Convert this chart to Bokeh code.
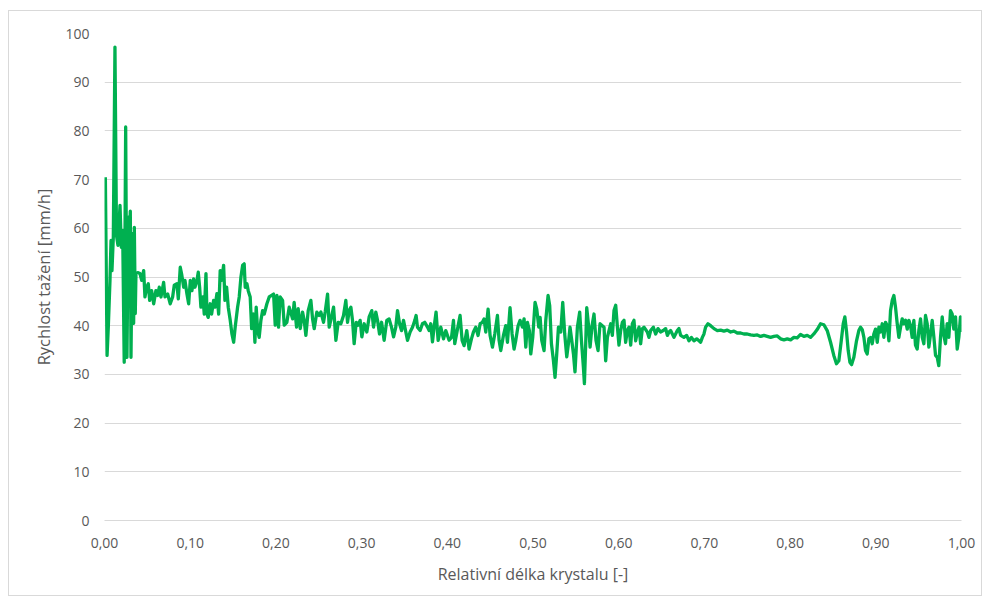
from bokeh.plotting import figure
from bokeh.models import FixedTicker, CustomJSTickFormatter, Range1d
from bokeh.embed import file_html
from bokeh.resources import INLINE

# ---- data: (relative crystal length, pulling speed mm/h) ----
seg_start = [
    (0.001, 70.5), (0.003, 33.9), (0.0045, 40.0), (0.0064, 49.3), (0.0076, 57.5),
    (0.0087, 51.3), (0.0103, 58.2), (0.0122, 97.2), (0.014, 58.5), (0.0157, 56.5),
    (0.0181, 64.7), (0.0196, 56.1), (0.0212, 59.5), (0.023, 32.5), (0.0247, 80.8),
    (0.0262, 33.5), (0.0278, 62.3), (0.0289, 55.0), (0.0301, 63.5), (0.0309, 33.5),
    (0.0324, 58.9), (0.034, 40.5), (0.0348, 60.2), (0.0359, 42.5), (0.0367, 50.7),
]

seg_early = [
    (0.0387, 50.9), (0.0414, 50.7), (0.0434, 49.3), (0.0457, 51.3), (0.0472, 45.9),
    (0.0492, 47.9), (0.0511, 48.6), (0.0527, 45.2), (0.055, 47.2), (0.0574, 44.5),
    (0.06, 47.2), (0.062, 46.2), (0.0639, 47.9), (0.0659, 45.9), (0.069, 48.9),
    (0.0706, 45.9), (0.0737, 46.5), (0.0767, 44.5), (0.0795, 45.9), (0.0814, 48.3),
    (0.0845, 48.6), (0.0861, 45.5), (0.0884, 52.0), (0.09, 50.6), (0.0924, 47.9),
    (0.0939, 49.3), (0.0962, 46.5), (0.0982, 44.5), (0.1001, 49.3), (0.102, 47.2),
    (0.104, 49.6), (0.1055, 47.9), (0.1079, 49.3), (0.1094, 51.0), (0.111, 47.9),
    (0.1125, 43.8), (0.1149, 45.9), (0.1164, 42.4), (0.1184, 50.7), (0.1196, 42.4),
    (0.121, 41.7), (0.1234, 44.5), (0.125, 42.4), (0.1273, 45.2), (0.1289, 43.8),
    (0.1312, 46.6), (0.1332, 42.4), (0.135, 51.3), (0.1367, 49.3), (0.139, 52.4),
    (0.1405, 45.2), (0.1425, 47.9), (0.1444, 43.8), (0.1467, 41.1), (0.1487, 38.3),
    (0.1507, 36.6), (0.1525, 39.7), (0.1553, 43.8), (0.1572, 45.9), (0.1592, 50.0),
    (0.1612, 52.4), (0.163, 52.7), (0.1642, 47.9), (0.1662, 48.6), (0.1677, 47.2),
    (0.17, 45.9), (0.1717, 39.4), (0.174, 42.4), (0.1755, 36.6), (0.177, 43.8),
    (0.1787, 39.0), (0.1805, 37.6), (0.1825, 41.1), (0.1845, 43.1), (0.1864, 42.4),
    (0.1895, 44.5), (0.1922, 45.9),
]

seg_mid1 = [
    (0.1973, 46.5), (0.1992, 40.1), (0.2012, 46.2), (0.2031, 39.7), (0.205, 45.9),
    (0.2078, 45.2), (0.2097, 40.1), (0.2128, 40.7), (0.2155, 43.8), (0.2195, 41.4),
    (0.2213, 44.8), (0.2241, 39.7), (0.226, 43.5), (0.2284, 39.4), (0.2311, 42.8),
    (0.233, 41.1), (0.235, 38.0), (0.2377, 43.1), (0.2408, 45.2), (0.2428, 41.4),
    (0.2447, 39.4), (0.2478, 42.8), (0.2505, 42.1), (0.2525, 42.8), (0.2556, 40.7),
    (0.2575, 42.8), (0.2603, 46.5), (0.2622, 39.7), (0.2649, 41.8), (0.2673, 43.8),
    (0.27, 37.0), (0.2727, 40.7), (0.2758, 40.4), (0.2789, 42.1), (0.2816, 45.2),
    (0.2836, 40.7), (0.2855, 43.1), (0.2875, 43.8), (0.2894, 41.1), (0.2913, 36.3),
    (0.2937, 40.7), (0.296, 40.1), (0.2983, 41.1), (0.3003, 37.7), (0.303, 40.4),
    (0.3061, 38.7), (0.3088, 41.8), (0.3119, 43.1), (0.3139, 39.7), (0.3166, 42.8),
    (0.3186, 41.1), (0.3209, 38.3), (0.3233, 40.7), (0.3263, 37.0), (0.3294, 41.1),
    (0.3321, 41.4), (0.3349, 39.7), (0.3373, 37.7), (0.3399, 39.7), (0.3419, 43.1),
    (0.3443, 40.4), (0.3466, 39.0), (0.3489, 41.1), (0.3508, 39.4), (0.3536, 37.0),
    (0.3566, 38.7), (0.3594, 39.7), (0.3621, 41.1), (0.3636, 42.1), (0.3652, 39.7),
    (0.3683, 39.0), (0.371, 40.4), (0.3737, 40.7), (0.3769, 39.7), (0.3788, 39.0),
    (0.3807, 40.4), (0.3827, 36.7), (0.3846, 39.7), (0.3869, 42.8), (0.3893, 37.0),
]

seg_mid2 = [
    (0.3924, 39.7), (0.3956, 37.3), (0.3982, 39.0), (0.4021, 37.0), (0.4049, 37.6),
    (0.4072, 41.1), (0.4087, 36.3), (0.4119, 39.3), (0.4149, 42.1), (0.4173, 37.0),
    (0.4196, 35.9), (0.4227, 39.0), (0.4254, 35.2), (0.4282, 37.3), (0.4305, 38.7),
    (0.4332, 39.7), (0.4359, 38.0), (0.4383, 40.4), (0.441, 40.7), (0.4429, 41.4),
    (0.4449, 38.7), (0.4476, 43.4), (0.4499, 38.0), (0.4527, 35.6), (0.4554, 38.3),
    (0.4585, 42.1), (0.4604, 37.0), (0.4624, 34.9), (0.4655, 38.0), (0.4682, 40.0),
    (0.4702, 36.6), (0.4732, 43.7), (0.4756, 38.3), (0.4779, 35.2), (0.4799, 37.0),
    (0.4826, 40.0), (0.4849, 41.1), (0.4877, 39.7), (0.4896, 41.4), (0.4916, 35.6),
    (0.4935, 40.7), (0.4958, 39.0), (0.4974, 34.2), (0.4997, 37.6), (0.5024, 44.8),
    (0.5044, 43.4), (0.5067, 39.7), (0.5083, 41.7), (0.5102, 37.0), (0.5129, 34.9),
    (0.5149, 41.1), (0.5176, 46.2), (0.5195, 44.1), (0.5215, 36.3), (0.5238, 32.9),
    (0.5257, 29.4), (0.5277, 34.2), (0.5297, 39.7), (0.5324, 38.7), (0.5347, 44.8),
    (0.537, 38.3), (0.5394, 33.6), (0.5413, 36.3), (0.5432, 39.7), (0.5452, 37.0),
    (0.5472, 34.2), (0.549, 30.5), (0.5518, 39.7), (0.5545, 42.8), (0.5565, 37.0),
    (0.5588, 31.5), (0.56, 28.1), (0.5615, 36.3), (0.5627, 43.7), (0.565, 39.7),
    (0.5666, 35.6), (0.5689, 40.0), (0.5712, 42.4), (0.5735, 37.0), (0.5759, 34.9),
    (0.5782, 40.4),
]

seg_late = [
    (0.5829, 39.7), (0.5848, 32.8), (0.5868, 37.6), (0.5887, 39.0), (0.5907, 40.4),
    (0.5926, 38.0), (0.5945, 43.1), (0.5965, 44.2), (0.5985, 39.7), (0.6003, 36.0),
    (0.6023, 39.0), (0.6043, 40.7), (0.6062, 41.1), (0.6081, 36.6), (0.6101, 39.0),
    (0.612, 39.7), (0.614, 36.0), (0.6159, 40.4), (0.6178, 41.1), (0.6198, 36.9),
    (0.6218, 38.7), (0.6237, 39.7), (0.6256, 36.3), (0.6276, 39.4), (0.6295, 39.7),
    (0.6334, 38.7), (0.6353, 37.6), (0.6373, 39.0), (0.6404, 39.7), (0.6431, 38.3),
    (0.6458, 39.4), (0.6489, 38.7), (0.652, 39.0), (0.6548, 39.4), (0.6568, 38.0),
    (0.6587, 38.7), (0.6606, 39.0), (0.6645, 37.6), (0.6684, 39.0), (0.6703, 39.4),
    (0.6723, 38.0), (0.6761, 37.6), (0.6793, 38.0), (0.682, 36.9), (0.6848, 37.6),
    (0.6878, 36.9), (0.691, 37.3), (0.6937, 36.9), (0.6956, 36.6), (0.6976, 37.6),
    (0.6995, 38.3), (0.7014, 39.7), (0.7042, 40.4), (0.7073, 40.0), (0.7112, 39.4),
    (0.7151, 39.0), (0.719, 39.1), (0.7228, 38.9), (0.7267, 39.1), (0.7306, 38.7),
    (0.7345, 38.9), (0.7384, 38.5), (0.7423, 38.5), (0.7461, 38.3), (0.75, 38.3),
    (0.7539, 38.1), (0.7578, 38.0), (0.7617, 38.1), (0.7656, 37.8), (0.7694, 38.0),
    (0.7733, 37.8), (0.7772, 37.6), (0.7811, 37.8), (0.785, 37.9),
]

seg_end = [
    (0.7889, 37.3), (0.7928, 37.1), (0.7967, 37.3), (0.8006, 37.1), (0.8044, 37.6),
    (0.8083, 37.5), (0.8122, 38.2), (0.8161, 37.8), (0.82, 38.0), (0.8239, 37.6),
    (0.8277, 38.3), (0.8316, 39.2), (0.8355, 40.4), (0.8394, 40.2), (0.8433, 39.0),
    (0.8472, 36.6), (0.851, 33.9), (0.8541, 32.2), (0.8569, 32.8), (0.8597, 36.9),
    (0.862, 40.4), (0.8639, 41.8), (0.8659, 38.7), (0.8678, 34.9), (0.8698, 32.5),
    (0.8717, 32.0), (0.8744, 33.5), (0.8775, 36.9), (0.8802, 39.0), (0.8822, 39.7),
    (0.8842, 39.2), (0.8861, 37.6), (0.888, 34.9), (0.89, 34.2), (0.8919, 37.3),
    (0.8939, 37.6), (0.8958, 36.3), (0.8977, 38.3), (0.8997, 39.3), (0.9017, 36.6),
    (0.9036, 39.7), (0.9055, 38.7), (0.9075, 40.4), (0.9094, 37.6), (0.9114, 40.7),
    (0.9134, 40.0), (0.9153, 36.9), (0.9172, 43.1), (0.9192, 45.2), (0.9211, 46.2),
    (0.923, 43.8), (0.925, 40.4), (0.9269, 37.6), (0.9289, 39.7), (0.9308, 41.4),
    (0.9327, 40.4), (0.9347, 41.1), (0.9367, 39.3), (0.9386, 41.1), (0.9405, 40.0),
    (0.9425, 37.6), (0.9444, 41.1), (0.9463, 36.0), (0.9483, 35.2), (0.9502, 39.0),
    (0.9522, 41.4), (0.9542, 37.6), (0.9561, 36.3), (0.958, 42.1), (0.96, 40.4),
    (0.9619, 35.6), (0.9639, 38.3), (0.9658, 41.1), (0.9678, 37.6), (0.9697, 33.9),
    (0.9717, 33.5), (0.9735, 31.8), (0.9755, 37.6), (0.9775, 41.8), (0.9794, 38.0),
    (0.9813, 36.3), (0.9833, 40.4), (0.9852, 37.6), (0.9872, 43.1), (0.9891, 42.4),
    (0.991, 39.3), (0.993, 41.8), (0.995, 35.2), (0.9969, 37.6), (0.9988, 41.8),
    (1.0, 38.7),
]

x_ticks = [0.0, 0.1, 0.2, 0.3, 0.4, 0.5, 0.6, 0.7, 0.8, 0.9, 1.0]
y_ticks = [0, 10, 20, 30, 40, 50, 60, 70, 80, 90, 100]
x_title = "Relativní délka krystalu [-]"
y_title = "Rychlost tažení [mm/h]"

points = seg_start + seg_early + seg_mid1 + seg_mid2 + seg_late + seg_end
rel_length = [pt[0] for pt in points]
pull_speed = [pt[1] for pt in points]

FONT = "Open Sans"
TXT = "#595959"
GRID = "#d9d9d9"

p = figure(
    width=974, height=586,
    output_backend="svg", toolbar_location=None,
    x_range=Range1d(0, 1), y_range=Range1d(0, 100),
    min_border_left=95, min_border_right=22, min_border_top=22, min_border_bottom=77,
    background_fill_color="white", border_fill_color="white",
    styles={"margin-left": "8px", "margin-top": "10px", "border": "1px solid #d9d9d9"},
)
p.outline_line_color = None

p.line(rel_length, pull_speed, line_color="#00B050", line_width=3.3, line_join="round")

# grids
p.xgrid.grid_line_color = None
p.ygrid.ticker = FixedTicker(ticks=y_ticks)
p.ygrid.grid_line_color = GRID
p.ygrid.grid_line_width = 1

# x axis
xa = p.xaxis[0]
xa.ticker = FixedTicker(ticks=x_ticks)
xa.formatter = CustomJSTickFormatter(code="return tick.toFixed(2).replace('.', ',');")
xa.axis_line_color = GRID
xa.major_tick_line_color = None
xa.minor_tick_line_color = None
xa.major_tick_out = 0
xa.major_tick_in = 0
xa.major_label_standoff = 17
xa.major_label_text_font = FONT
xa.major_label_text_font_size = "14px"
xa.major_label_text_color = TXT
xa.axis_label = x_title
xa.axis_label_text_font = FONT
xa.axis_label_text_font_size = "16px"
xa.axis_label_text_font_style = "normal"
xa.axis_label_text_color = TXT
xa.axis_label_standoff = 12

# y axis
ya = p.yaxis[0]
ya.ticker = FixedTicker(ticks=y_ticks)
ya.axis_line_color = None
ya.major_tick_line_color = None
ya.minor_tick_line_color = None
ya.major_tick_out = 0
ya.major_tick_in = 0
ya.major_label_standoff = 15
ya.major_label_text_font = FONT
ya.major_label_text_font_size = "14px"
ya.major_label_text_color = TXT
ya.axis_label = y_title
ya.axis_label_text_font = FONT
ya.axis_label_text_font_size = "16.5px"
ya.axis_label_text_font_style = "normal"
ya.axis_label_text_color = TXT
ya.axis_label_standoff = 7

open("out.html", "w").write(file_html(p, INLINE))
